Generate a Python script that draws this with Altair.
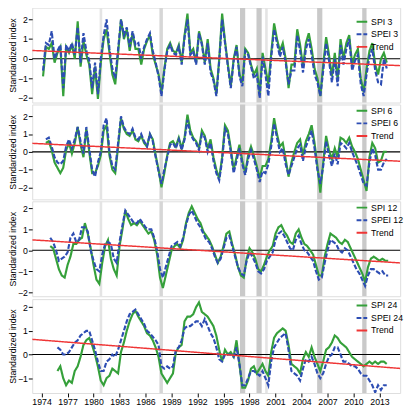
import altair as alt
import pandas as pd

FONT = "Liberation Sans"
STEP_YEARS = 1 / 3  # samples every 4 months

# ---------------- data ----------------
SPI3_START = 1974.17
SPI3 = [-0.9, 0.6, 0.5, 0.8, -0.2, 0.3, 0.6, -1.9, 0.6, 0.3, 0.7, 0.0, 1.9, -0.4, 0.9, 0.2, -0.3, -1.8, -0.4, -2.05,
        -0.2, 1.0, 1.5, 0.3, -0.8, -1.3, 0.3, 2.0, 1.0, 1.5, 0.4, 1.3, 0.5,
        0.5, -0.3, 0.5, 0.9, 1.2, 0.2, -0.3, -0.8, -1.7, -0.5, 0.5, 0.8, 0.4, 0.3, 0.7, -0.2, 1.2, 2.3, 0.3, 0.5,
        -0.2, 1.4, 0.8, -0.2, 1.0, -0.5, -1.0, -1.8, 0.0, 2.3, 0.9, -0.3, -1.4, 0.0, 0.7, -0.8, -1.2, 0.5, 0.3,
        -0.3, -0.8, -0.5, -1.8, 0.3,
        -0.5, -1.3, 0.3, 1.8, 1.0, 0.4, 0.8, 0.0, -1.5, -0.3, -0.3, 1.5, 0.7, -0.4, 0.8, 1.3, 0.5, -0.5, -1.0,
        -1.9, -0.3, 1.1, 0.2, -0.9, 0.3, -1.1, 1.0, 0.0, 0.8, 1.2, -0.3, 0.2, 0.5, -1.0, -1.7, -0.5, 0.4, 0.8,
        -0.3, -0.8, 0.0, 0.3, -0.2]
SPEI3 = [-0.6, 0.8, 0.7, 1.4, 0.0, 0.4, 0.7, -1.5, 0.7, 0.4, 0.8, 0.2, 1.6, -0.2, 1.3, 0.4, -0.1, -1.5, -0.2, -1.8,
         0.0, 1.2, 2.0, 0.5, -0.5, -1.0, 0.5, 2.0, 1.2, 1.6, 0.6, 1.4, 0.7,
         0.8, 0.0, 0.6, 1.0, 1.3, 0.4, -0.2, -0.9, -1.9, -0.6, 0.4, 0.7, 0.3, 0.2, 0.6, -0.3, 1.1, 2.0, 0.2, 0.4,
         -0.3, 1.3, 0.7, -0.3, 0.8, -0.7, -1.1, -1.9, -0.1, 2.0, 0.8, -0.4, -1.5, -0.1, 0.6, -0.9, -1.4, 0.4, 0.2,
         -0.4, -1.0, -0.8, -2.0, 0.1,
         -0.8, -1.9, 0.1, 1.5, 0.8, 0.1, 0.6, -0.2, -1.3, -0.6, -0.6, 1.2, 0.4, -0.7, 0.5, 1.0, 0.2, -0.8, -1.2,
         -1.9, -0.6, 0.8, -0.1, -1.2, 0.0, -1.4, 0.7, -0.3, 0.5, 1.0, -0.6, -0.1, 0.2, -1.3, -1.9, -0.8, 0.1, 0.5,
         -0.6, -1.2, -1.3, 0.0, -0.5]

SPI6_START = 1974.5
SPI6 = [0.5, 0.6, 0.1, -0.6, -0.9, -1.2, -0.9, 0.1, 0.5, -0.1, 0.5, 1.4, 0.4, -0.3, 1.3, 0.0, -1.2, -1.2, -0.8, -0.2,
        1.2, 1.5, -0.2, -1.0, -1.2, 0.3, 1.9, 1.3, 1.0, 0.9, 1.2, 0.7,
        0.6, 0.9, 0.5, 0.3, 1.0, 0.7, -0.2, -1.0, -2.0, -1.2, -0.2, 0.5, 0.6, 0.3, 0.8, 0.2, 0.8, 2.1, 1.2, 0.8,
        0.6, 0.2, 1.2, 0.9, 0.2, 0.7, -0.3, -1.0, -1.5, -0.3, 1.5, 1.2, 0.2, -1.0, -0.3, 0.4, -0.5, -1.2, -0.2,
        0.3, -0.2, -0.8, -1.5, -0.8,
        -0.8, -0.4, 0.6, 1.9, 1.0, 0.3, 0.5, -0.4, -1.4, -0.6, 0.0, 0.5, 0.7, -0.2, 0.6, 1.0, 1.5, 0.5, -0.8,
        -2.3, -0.6, 0.9, 0.1, -0.4, 0.2, -0.3, 0.8, 0.7, 0.5, 0.8, 0.3, 0.0, -0.4, -1.0, -1.6, -2.2, -0.3, 0.5,
        0.2, -0.6, -0.5, 0.0, 0.0]
SPEI6 = [0.7, 0.8, 0.3, -0.3, -0.6, -0.7, -0.5, 0.3, 0.7, 0.2, 0.7, 1.4, 0.6, -0.1, 1.4, 0.2, -1.0, -1.4, -0.6, 0.0,
         1.5, 1.9, 0.0, -0.8, -1.0, 0.5, 2.0, 1.4, 1.1, 1.0, 1.3, 0.8,
         0.7, 1.0, 0.6, 0.3, 1.0, 0.6, -0.3, -1.1, -1.8, -1.0, -0.3, 0.4, 0.5, 0.2, 0.7, 0.1, 0.7, 1.8, 1.0, 0.7,
         0.5, 0.1, 1.0, 0.8, 0.0, 0.5, -0.5, -1.2, -1.6, -0.5, 1.3, 1.0, 0.0, -1.2, -0.5, 0.2, -0.7, -1.3, -0.4,
         0.1, -0.4, -1.0, -1.7, -1.1,
         -1.2, -0.7, 0.3, 1.6, 0.8, 0.0, 0.2, -0.7, -1.3, -0.8, -0.3, 0.2, 0.4, -0.5, 0.3, 0.7, 1.2, 0.2, -1.0,
         -1.8, -0.8, 0.6, -0.2, -0.8, -0.1, -0.7, 0.5, 0.4, 0.2, 0.5, 0.0, -0.4, -0.8, -1.3, -1.8, -1.9, -0.6, 0.2,
         -0.2, -1.0, -1.0, -0.6, -0.4]

SPI12_START = 1975.0
SPI12 = [0.2, 0.1, -0.4, -0.9, -1.2, -1.3, -0.7, -0.3, 0.3, 0.3, 0.5, 0.6, 1.3, 0.8, 0.1, -0.7, -1.4, -1.6, -0.6, 0.2,
         0.5, -0.4, -0.9, -1.2, 0.2, 1.0, 1.9, 1.5, 1.2, 1.3,
         1.2, 1.4, 1.2, 1.0, 0.8, 0.9, 0.5, -0.2, -1.3, -1.8, -1.2, -0.6, 0.0, 0.2, 0.3, 0.1, 0.5, 1.3, 1.8, 2.1,
         1.8, 1.5, 1.3, 0.9, 0.7, 0.5, 0.2, -0.2, -0.6, -0.3, 0.2, 0.8, 0.9, 0.3, -0.2, -0.8, -1.2, -1.3, -0.4, 0.1,
         -0.1, -0.4, -0.9, -1.0, -0.7, -0.3, 0.0, 0.2, 0.8, 1.1, 1.2, 0.9, 0.7, 0.4, 0.3, 0.8, 1.0, 0.6, 0.3, 0.2,
         0.0, -0.2, -0.7, -1.2, -1.2, -0.3, 0.3, 0.8, 0.7, 0.6, 0.4, 0.3, 0.5, 0.4, 0.1, -0.2, -0.5, -0.8, -1.1, -1.5,
         -0.8, -0.4, -0.3, -0.4, -0.5, -0.4, -0.5, -0.5]
SPEI12 = [0.6, 0.4, 0.0, -0.5, -0.4, -0.3, -0.1, 0.6, 0.8, 0.4, 0.5, 1.1, 1.1, 0.9, 0.0, -0.5, -0.9, -1.0, -0.2, 0.3,
          0.4, 0.3, -0.4, -0.6, 0.4, 1.2, 1.9, 1.7, 1.5, 1.3,
          1.3, 1.5, 1.3, 1.1, 1.0, 1.0, 0.6, 0.0, -0.9, -1.3, -0.8, -0.3, 0.2, 0.3, 0.4, 0.2, 0.6, 1.2, 1.7, 1.9,
          1.6, 1.3, 1.1, 0.8, 0.5, 0.4, 0.1, -0.3, -0.6, -0.4, 0.1, 0.6, 0.7, 0.2, -0.3, -0.8, -1.1, -1.2, -0.5, -0.1,
          -0.3, -0.6, -1.0, -1.1, -0.9, -0.5, -0.3, -0.1, 0.5, 0.8, 0.9, 0.7, 0.4, 0.1, 0.0, 0.5, 0.7, 0.3, 0.0, -0.1,
          -0.3, -0.5, -1.0, -1.4, -1.3, -0.6, 0.0, 0.5, 0.4, 0.3, 0.0, -0.1, 0.1, 0.0, -0.3, -0.6, -0.9, -1.1, -1.4,
          -1.7, -1.2, -0.9, -0.9, -1.0, -1.1, -1.0, -1.2, -1.2]

SPI24_START = 1975.83
SPI24 = [-0.7, -0.5, -1.0, -1.3, -1.1, -1.2, -0.7, -0.5, -0.1, 0.4, 0.6, 0.7, 0.4, 0.0, -0.5, -1.1, -1.3, -1.0, -0.9,
         -0.6, -0.7, -0.8, 0.1, 0.5, 1.0, 1.4, 1.7, 1.85, 1.6, 1.4, 1.2, 0.9, 0.8, 0.6, 0.3, -0.1, -0.8, -1.0, -1.2,
         -1.0, -0.8, 0.1, 0.3, 0.4, 1.4, 1.6, 1.6, 1.7, 2.0, 2.2, 1.8,
         1.7, 1.6, 1.4, 1.2, 0.8, 0.2, -0.3, 0.2, 0.0, 0.1, -0.1, 0.6, -0.4, -1.4, -1.4, -1.1, -0.6, -0.5, -0.8,
         -0.6, -0.4, -0.7, -0.9, 0.1, 0.7, 0.9, 1.0, 1.1, 1.0, 0.4, -0.4, -0.5, -0.6, -0.8, -0.2, 0.1, -0.1, 0.3,
         -0.1, -0.4, -0.7, -0.3, 0.2, 0.3, 0.5, 0.8, 0.7, 0.5, 0.4, 0.3, 0.1, -0.1, -0.2, -0.3, -0.4, -0.5, -0.4,
         -0.3, -0.4, -0.3, -0.4, -0.3, -0.3, -0.4]
SPEI24 = [0.3, 0.2, 0.0, 0.0, 0.1, 0.3, 0.5, 0.6, 0.8, 0.9, 1.0, 1.0, 0.6, 0.2, -0.3, -0.7, -0.7, -0.3, -0.2, 0.0,
          -0.1, 0.2, 0.6, 1.0, 1.4, 1.7, 1.8, 1.9, 1.7, 1.5, 1.3, 1.0, 0.9, 0.75, 0.6, 0.4, -0.5, -0.6, -0.5, -0.6,
          -0.5, 0.2, 0.3, 0.6, 1.1, 1.2, 1.2, 1.3, 1.4, 1.4, 1.2,
          1.5, 1.2, 0.9, 0.7, 0.3, -0.2, -0.3, 0.0, 0.0, 0.0, -0.1, 0.3, -0.4, -1.3, -1.3, -1.0, -0.7, -0.7, -0.8,
          -0.9, -0.7, -1.0, -1.3, -0.3, 0.3, 0.5, 0.7, 0.8, 0.9, 0.2, -0.7, -0.8, -0.9, -1.1, -0.6, -0.2, -0.3, -0.1,
          -0.4, -0.8, -1.0, -0.8, -0.4, -0.1, 0.0, 0.3, 0.3, 0.0, -0.3, -0.3, -0.4, -0.5, -0.5, -0.6, -0.8, -0.9,
          -0.9, -1.1, -1.3, -1.6, -1.3, -1.5, -1.3, -1.3]

X_DOMAIN = [1972.92, 2015.38]
TREND_YEARS = [1972.92, 2015.38]
TREND3 = [0.42, -0.35]
TREND6 = [0.48, -0.53]
TREND12 = [0.50, -0.60]
TREND24 = [0.64, -0.59]

BAND_START = [1980.7, 1987.6, 1996.9, 1998.8, 1999.8, 2005.8, 2011.0]
BAND_END = [1981.0, 1988.0, 1997.5, 1999.4, 2000.1, 2006.4, 2011.5]
BAND_LEVEL = ["light", "mid", "strong", "strong", "light", "strong", "strong"]

X_TICKS = [1974, 1977, 1980, 1983, 1986, 1989, 1992, 1995, 1998, 2001, 2004, 2007, 2010, 2013]

GREEN = "#35a03a"
BLUE = "#2d4db3"
RED = "#ef3535"

W = 380

bands_df = pd.DataFrame({"start": BAND_START, "end": BAND_END, "level": BAND_LEVEL})
zero_df = pd.DataFrame({"v": [0.0]})


def panel(n, start, spi, spei, trend, ydom, height, bottom, leg_y):
    names = [f"SPI {n}", f"SPEI {n}", "Trend"]
    yrs = [start + i * STEP_YEARS for i in range(len(spi))]
    yrs2 = [start + i * STEP_YEARS for i in range(len(spei))]
    df = pd.DataFrame({
        "year": yrs + yrs2 + TREND_YEARS,
        "value": spi + spei + trend,
        "series": [names[0]] * len(spi) + [names[1]] * len(spei) + [names[2]] * len(trend),
    })
    xs = alt.Scale(domain=X_DOMAIN, nice=False, zero=False)
    if bottom:
        xaxis = alt.Axis(values=X_TICKS, format="d", title=None, domain=False, grid=False,
                         tickSize=4, tickColor="black", labelFontSize=9, labelFont=FONT,
                         labelColor="black", labelPadding=1)
    else:
        xaxis = None
    ys = alt.Scale(domain=ydom, nice=False, zero=False)
    yaxis = alt.Axis(values=[-2, -1, 0, 1, 2], title="Standardized index", domain=False, grid=False,
                     tickSize=4, tickColor="black", labelFontSize=9, labelFont=FONT, labelColor="black",
                     labelPadding=1, titleFont=FONT, titleFontSize=9, titleFontWeight="normal",
                     titleColor="black", titleX=-15, titleBaseline="bottom")
    leg = alt.Legend(orient="none", legendX=334, legendY=leg_y, title=None, labelFont=FONT,
                     labelFontSize=9, labelColor="black", symbolType="stroke", symbolSize=121,
                     symbolStrokeWidth=2, rowPadding=1, padding=0, labelOffset=3)
    color = alt.Color("series:N", scale=alt.Scale(domain=names, range=[GREEN, BLUE, RED]), legend=leg)
    dash = alt.StrokeDash("series:N", scale=alt.Scale(domain=names, range=[[1, 0], [5, 2], [1, 0]]),
                          legend=leg)

    layers = []
    for lvl, col in [("light", "#e4e4e4"), ("mid", "#d6d6d6"), ("strong", "#c9c9c9")]:
        layers.append(
            alt.Chart(bands_df).transform_filter(alt.datum.level == lvl)
            .mark_rect(color=col)
            .encode(x=alt.X("start:Q", scale=xs, axis=xaxis), x2="end:Q")
        )
    layers.append(
        alt.Chart(zero_df).mark_rule(color="black", strokeWidth=1.1)
        .encode(y=alt.Y("v:Q", scale=ys, axis=yaxis))
    )
    widths = [2.2, 2.2, 1.5]
    for name, w in zip(names, widths):
        layers.append(
            alt.Chart(df).transform_filter(alt.datum.series == name)
            .mark_line(clip=True, strokeWidth=w)
            .encode(
                x=alt.X("year:Q", scale=xs, axis=xaxis),
                y=alt.Y("value:Q", scale=ys, axis=yaxis),
                color=color,
                strokeDash=dash,
            )
        )
    return alt.layer(*layers).properties(width=W, height=height)


p1 = panel(3, SPI3_START, SPI3, SPEI3, TREND3, [-2.23, 2.6], 98, False, 8)
p2 = panel(6, SPI6_START, SPI6, SPEI6, TREND6, [-2.68, 2.67], 98, False, 0)
p3 = panel(12, SPI12_START, SPI12, SPEI12, TREND12, [-2.19, 2.34], 98, False, 0)
p4 = panel(24, SPI24_START, SPI24, SPEI24, TREND24, [-1.63, 2.34], 97, True, 0)

chart = (
    alt.vconcat(p1, p2, p3, p4, spacing=0)
    .resolve_scale(y="independent", color="independent", strokeDash="independent")
    .properties(padding={"left": 0, "top": -8, "right": 0, "bottom": 0})
    .configure_view(stroke="black", strokeWidth=1)
    .configure(background="white")
)

chart.save("out.html", embed_options={"renderer": "svg", "actions": False})
